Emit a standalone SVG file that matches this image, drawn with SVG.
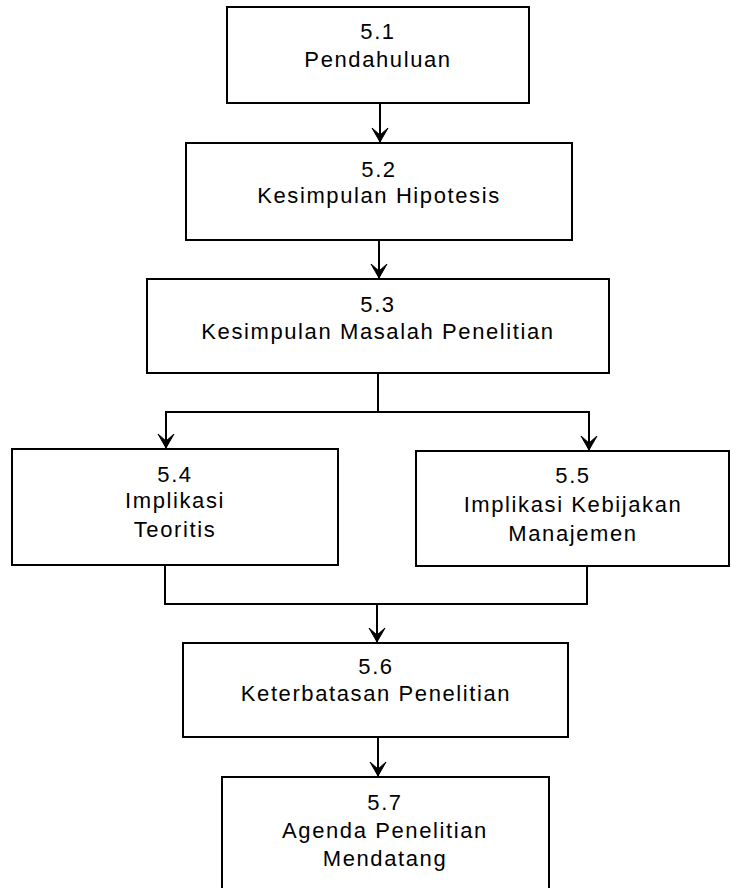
<svg xmlns="http://www.w3.org/2000/svg" width="731" height="888" viewBox="0 0 731 888">
  <style>
    .box { fill: #ffffff; stroke: #000000; stroke-width: 2; }
    .lbl { font-family: "Liberation Sans", Arial, sans-serif; font-size: 22px; letter-spacing: 1.6px; fill: #000000; text-anchor: middle; }
    .link { fill: none; stroke: #000000; stroke-width: 2; }
  </style>
  <defs>
    <!-- swept-back arrowhead, drawn pointing along +x -->
    <marker id="arrow" markerUnits="userSpaceOnUse" markerWidth="20" markerHeight="20" viewBox="-17 -10 20 20" refX="0" refY="0" orient="auto" overflow="visible">
      <path d="M0,0 L-14,-8 L-7,0 L-14,8 Z" fill="#000000" stroke="#000000" stroke-width="1" stroke-linejoin="miter"/>
    </marker>
  </defs>
  <rect width="731" height="888" fill="#ffffff"/>

  <!-- connectors -->
  <g id="connectors">
    <path class="link" d="M380,103 V142" marker-end="url(#arrow)"/>
    <path class="link" d="M379,240 V278" marker-end="url(#arrow)"/>
    <path class="link" d="M378,373 V412 H166 V448" marker-end="url(#arrow)"/>
    <path class="link" d="M378,412 H589 V450" marker-end="url(#arrow)"/>
    <path class="link" d="M165,565 V604 H587 V566"/>
    <path class="link" d="M377,604 V642" marker-end="url(#arrow)"/>
    <path class="link" d="M378,737 V776" marker-end="url(#arrow)"/>
  </g>

  <g id="node-5-1">
    <rect class="box" x="227" y="7" width="302" height="96"/>
    <text class="lbl" x="378" y="39">5.1</text>
    <text class="lbl" x="378" y="67">Pendahuluan</text>
  </g>

  <g id="node-5-2">
    <rect class="box" x="186" y="143" width="386" height="97"/>
    <text class="lbl" x="379" y="177">5.2</text>
    <text class="lbl" x="379" y="203">Kesimpulan Hipotesis</text>
  </g>

  <g id="node-5-3">
    <rect class="box" x="147" y="279" width="462" height="94"/>
    <text class="lbl" x="378" y="312">5.3</text>
    <text class="lbl" x="378" y="339">Kesimpulan Masalah Penelitian</text>
  </g>

  <g id="node-5-4">
    <rect class="box" x="12" y="449" width="326" height="116"/>
    <text class="lbl" x="175" y="482">5.4</text>
    <text class="lbl" x="175" y="508">Implikasi</text>
    <text class="lbl" x="175" y="537">Teoritis</text>
  </g>

  <g id="node-5-5">
    <rect class="box" x="416" y="451" width="313" height="115"/>
    <text class="lbl" x="573" y="483">5.5</text>
    <text class="lbl" x="573" y="512">Implikasi Kebijakan</text>
    <text class="lbl" x="573" y="541">Manajemen</text>
  </g>

  <g id="node-5-6">
    <rect class="box" x="183" y="643" width="385" height="94"/>
    <text class="lbl" x="376" y="674">5.6</text>
    <text class="lbl" x="376" y="701">Keterbatasan Penelitian</text>
  </g>

  <g id="node-5-7">
    <rect class="box" x="222" y="777" width="327" height="130"/>
    <text class="lbl" x="385" y="810">5.7</text>
    <text class="lbl" x="385" y="838">Agenda Penelitian</text>
    <text class="lbl" x="385" y="866">Mendatang</text>
  </g>
</svg>
